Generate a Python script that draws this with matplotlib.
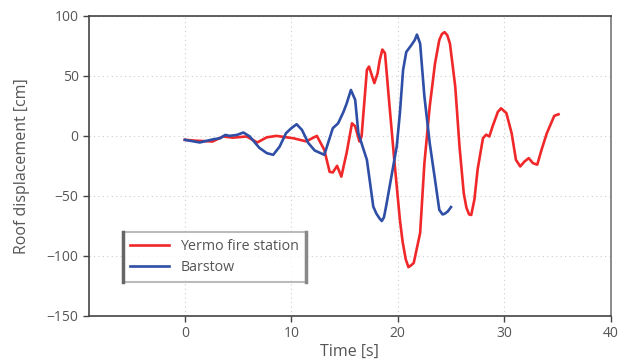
import numpy as np
import matplotlib.pyplot as plt
from matplotlib.lines import Line2D

# Yermo fire station roof displacement [cm] vs time [s]
t_yermo = [0.0, 1.0, 2.6, 3.6, 4.5, 5.8, 6.8, 7.7, 8.6, 10.2, 10.8, 11.4, 12.4,
           13.1, 13.6, 13.9, 14.3, 14.7, 15.2, 15.7, 16.0, 16.4, 16.6, 17.1, 17.3,
           17.8, 18.1, 18.3, 18.55, 18.8, 19.2, 19.7, 20.2, 20.45, 20.75, 21.0, 21.25, 21.5,
           22.1, 22.5, 23.0, 23.5, 23.9, 24.15, 24.4, 24.65, 24.9, 25.4, 25.8, 26.2,
           26.45, 26.7, 26.9, 27.2, 27.5, 28.0, 28.3, 28.6, 28.9, 29.4, 29.7, 30.2,
           30.7, 31.1, 31.5, 31.9, 32.3, 32.7, 33.1, 33.5, 34.0, 34.4, 34.7, 35.1]
d_yermo = [-3.3, -4.0, -4.7, -0.5, -1.5, -0.5, -5.5, -1.2, 0.0, -2.0, -3.3, -4.6, 0.0,
           -11.7, -30.0, -30.5, -25.0, -34.0, -14.0, 10.5, 8.0, -4.7, -0.5, 55.0, 57.8,
           44.0, 52.0, 63.0, 72.0, 69.0, 27.5, -22.8, -70.0, -88.0, -103.0, -109.5, -108.0,
           -106.0, -81.0, -23.0, 24.5, 60.5, 80.0, 85.0, 86.5, 84.0, 77.0, 41.0, -9.0,
           -48.0, -60.0, -65.5, -66.0, -53.0, -28.0, -2.0, 1.0, -0.5, 7.8, 20.0, 23.0,
           19.0, 2.0, -20.0, -25.5, -21.4, -18.6, -22.8, -24.0, -11.7, 2.2, 10.5, 16.7, 18.0]

# Barstow roof displacement [cm] vs time [s]
t_barstow = [0.0, 1.4, 2.7, 3.3, 3.8, 4.2, 4.9, 5.5, 6.1, 7.0, 7.7, 8.3, 8.9, 9.5,
             10.0, 10.5, 11.0, 11.6, 12.2, 13.1, 13.9, 14.4, 14.9, 15.2, 15.6, 16.0,
             16.3, 16.7, 17.1, 17.4, 17.7, 18.0, 18.3, 18.5, 18.7, 18.9, 19.4, 19.9,
             20.2, 20.5, 20.8, 21.3, 21.6, 21.8, 22.1, 22.5, 23.0, 23.5, 23.9, 24.2,
             24.4, 24.7, 25.0]
d_barstow = [-3.3, -5.5, -2.8, -2.0, 0.8, 0.0, 0.8, 2.8, -0.5, -10.0, -14.4, -15.8, -9.0, 2.2,
             6.4, 9.7, 5.0, -6.0, -12.2, -15.8, 6.4, 10.5, 20.0, 27.0, 38.3, 30.0,
             2.2, -9.0, -20.0, -39.4, -59.0, -65.0, -69.0, -71.0, -68.0, -59.0, -34.0, -9.0,
             19.0, 55.0, 70.0, 76.0, 80.0, 84.5, 77.0, 33.0, -6.0, -36.7, -61.7, -65.5,
             -65.0, -63.0, -59.4]

x_ticks = [0, 10, 20, 30, 40]
y_ticks = [-150, -100, -50, 0, 50, 100]

plt.rcParams['font.family'] = ['Open Sans', 'DejaVu Sans']
txt = '#555555'
ax_col = '#444444'

fig = plt.figure(figsize=(6.19, 3.61), dpi=100)
ax = fig.add_axes([0.1438, 0.1255, 0.8428, 0.8302])

ax.plot(t_yermo, d_yermo, color='#f0282a', lw=1.9, label='Yermo fire station',
        solid_joinstyle='round')
ax.plot(t_barstow, d_barstow, color='#2f4ea6', lw=1.9, label='Barstow',
        solid_joinstyle='round')

ax.set_xlim(-9, 40)
ax.set_ylim(-150, 100)
ax.set_xticks(x_ticks)
ax.set_yticks(y_ticks)
ax.grid(True, linestyle=(0, (1, 3)), color='#cccccc', lw=0.8)
ax.set_axisbelow(True)

for s in ax.spines.values():
    s.set_color(ax_col)
    s.set_linewidth(1.2)
ax.spines['right'].set_color('#777777')

ax.tick_params(colors=ax_col, labelcolor=txt, labelsize=10, length=4, width=1)
ax.set_xlabel('Time [s]', color=txt, fontsize=11.5, labelpad=2)
ax.set_ylabel('Roof displacement [cm]', color=txt, fontsize=11.5, labelpad=12)

leg = ax.legend(loc='upper left', bbox_to_anchor=(0.065, 0.279), borderaxespad=0,
                fancybox=False, fontsize=10.3, handlelength=2.7, labelcolor=txt,
                borderpad=0.5, labelspacing=0.4)
leg.get_frame().set_edgecolor('#aaaaaa')
leg.get_frame().set_linewidth(1.5)

# thick side bars on the legend box
fig.canvas.draw()
bb = leg.get_window_extent().transformed(fig.transFigure.inverted())
for xb, c in [(bb.x0, '#666666'), (bb.x1, '#888888')]:
    fig.add_artist(Line2D([xb, xb], [bb.y0, bb.y1], color=c, lw=2.5,
                          transform=fig.transFigure))

fig.savefig('out.png', dpi=100)
